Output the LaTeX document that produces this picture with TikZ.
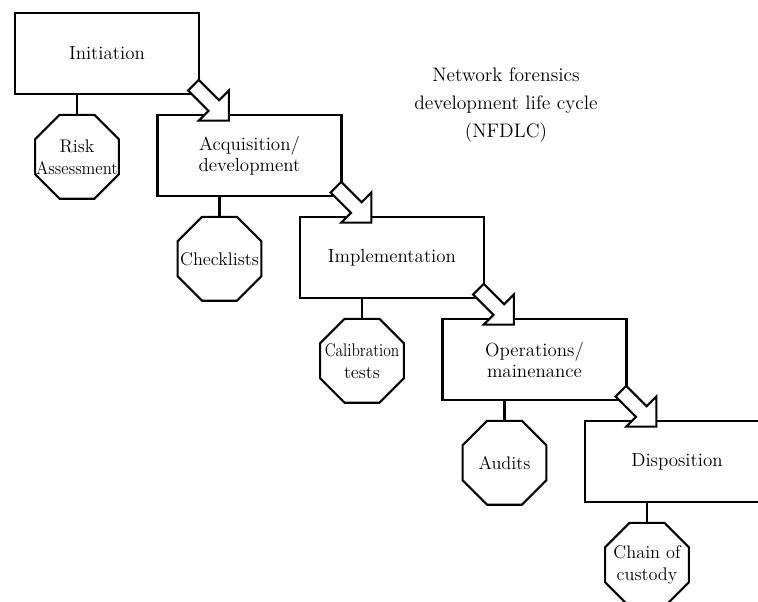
\documentclass[tikz,border=0pt]{standalone}
\usepackage{graphicx}
\usetikzlibrary{shapes.geometric,shapes.arrows,calc}

\newcommand{\squeeze}[1]{\scalebox{0.84}[1]{#1}}

\begin{document}
\begin{tikzpicture}[
  stage/.style={draw,line width=1.5pt,minimum width=4.6cm,minimum height=2.04cm,align=center,font=\fontsize{13.5}{15}\selectfont},
  octa/.style={draw,line width=1.5pt,regular polygon,regular polygon sides=8,minimum size=2.27cm,inner sep=0pt},
  every label/.style={align=center,font=\fontsize{13}{15.6}\selectfont},
  flow/.style={draw,line width=1.5pt,fill=white,single arrow,single arrow tip angle=90,single arrow head extend=0.35cm,inner xsep=0pt,inner ysep=0.16cm,minimum height=1.255cm,rotate=-45}]
  \clip (0,0) rectangle (18.95,15.05);
  % life cycle stages
  \node[stage] (init) at (2.675,13.71) {Initiation};
  \node[stage] (acq) at (6.2375,11.16) {Acquisition/\\development};
  \node[stage] (impl) at (9.8,8.61) {Implementation};
  \node[stage] (ops) at (13.3625,6.06) {Operations/\\mainenance};
  \node[stage] (disp) at (16.925,3.51) {Disposition};
  % checks below each stage
  \node[octa,label={center:Risk\\\scalebox{0.92}[1]{Assessment}}] (risk) at (1.925,11.13) {};
  \node[octa,label={center:Checklists}] (check) at (5.4875,8.58) {};
  \node[octa,label={center:\squeeze{Calibration}\\tests}] (calib) at (9.05,6.03) {};
  \node[octa,label={center:Audits}] (audit) at (12.6125,3.48) {};
  \node[octa,label={center:Chain of\\custody}] (chain) at (16.175,0.93) {};
  \draw[line width=1.5pt] (risk.north) -- (risk.north |- init.south);
  \draw[line width=1.5pt] (check.north) -- (check.north |- acq.south);
  \draw[line width=1.5pt] (calib.north) -- (calib.north |- impl.south);
  \draw[line width=1.5pt] (audit.north) -- (audit.north |- ops.south);
  \draw[line width=1.5pt] (chain.north) -- (chain.north |- disp.south);
  % arrows from stage to stage
  \coordinate (t1) at ($(init.south east)+(-0.21,0.29)$);
  \coordinate (h1) at ($(acq.north west)+(1.725,-0.075)$);
  \node[flow] (f1) at ($(t1)!0.5!(h1)$) {};
  \coordinate (t2) at ($(acq.south east)+(-0.21,0.29)$);
  \coordinate (h2) at ($(impl.north west)+(1.725,-0.075)$);
  \node[flow] (f2) at ($(t2)!0.5!(h2)$) {};
  \coordinate (t3) at ($(impl.south east)+(-0.21,0.29)$);
  \coordinate (h3) at ($(ops.north west)+(1.725,-0.075)$);
  \node[flow] (f3) at ($(t3)!0.5!(h3)$) {};
  \coordinate (t4) at ($(ops.south east)+(-0.21,0.29)$);
  \coordinate (h4) at ($(disp.north west)+(1.725,-0.075)$);
  \node[flow] (f4) at ($(t4)!0.5!(h4)$) {};
  \node[align=center,font=\fontsize{13.9}{20}\selectfont] (title) at (12.65,12.425) {Network forensics\\development life cycle\\(NFDLC)};
\end{tikzpicture}
\end{document}
